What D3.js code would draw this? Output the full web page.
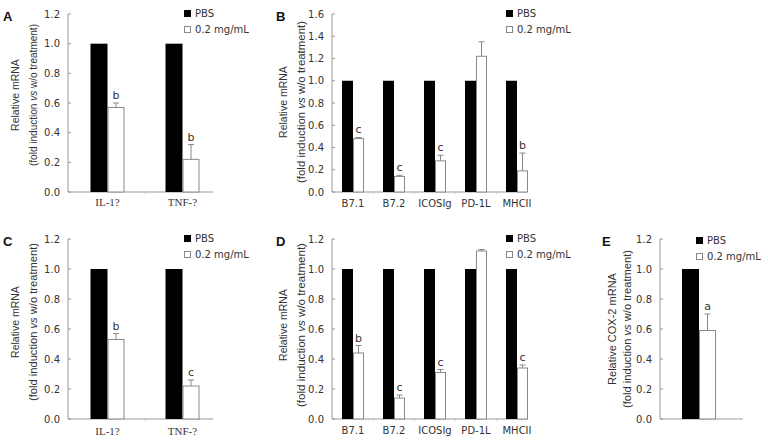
<!DOCTYPE html>
<html><head><meta charset="utf-8">
<script src="https://cdn.jsdelivr.net/npm/d3@7"></script>
<style>body{margin:0;background:#fff}svg{display:block}</style>
</head><body>
<script>
// ---- data ----
const catsCyt = ["IL-1?", "TNF-?"];
const catsCos = ["B7.1", "B7.2", "ICOSIg", "PD-1L", "MHCII"];
const catsCox = ["COX-2"];
const legendLabels = ["PBS", "0.2 mg/mL"];

const pbsA = [1, 1];
const trtA = [0.57, 0.22];
const errA = [0.03, 0.10];
const sigA = ["b", "b"];

const pbsB = [1, 1, 1, 1, 1];
const trtB = [0.48, 0.14, 0.28, 1.22, 0.19];
const errB = [0.01, 0.01, 0.05, 0.13, 0.16];
const sigB = ["c", "c", "c", "", "b"];

const pbsC = [1, 1];
const trtC = [0.53, 0.22];
const errC = [0.04, 0.04];
const sigC = ["b", "c"];

const pbsD = [1, 1, 1, 1, 1];
const trtD = [0.44, 0.14, 0.31, 1.12, 0.34];
const errD = [0.05, 0.02, 0.02, 0.01, 0.02];
const sigD = ["b", "c", "c", "", "c"];

const pbsE = [1];
const trtE = [0.59];
const errE = [0.11];
const sigE = ["a"];

const ticksA = [0, 0.2, 0.4, 0.6, 0.8, 1.0, 1.2];
const ticksB = [0, 0.2, 0.4, 0.6, 0.8, 1.0, 1.2, 1.4, 1.6];

const svg = d3.select("body").append("svg").attr("width", 768).attr("height", 444);
const AX = "#9a9a9a";
const SANS = "'DejaVu Sans', Verdana, sans-serif";
const ARIAL = "'Liberation Sans', Arial, sans-serif";

function panel(o) {
  const g = svg.append("g");
  const y = d3.scaleLinear().domain([0, o.ymax]).range([o.y0, o.y1]);
  const x = d3.scaleBand().domain(o.cats).range(o.xr).padding(0);
  const bw = o.bw;
  // axes
  g.append("line").attr("x1", o.ax).attr("x2", o.ax).attr("y1", y(o.ymax)).attr("y2", y(0)).attr("stroke", AX);
  g.append("line").attr("x1", o.ax).attr("x2", o.axEnd).attr("y1", y(0)).attr("y2", y(0)).attr("stroke", AX);
  o.ticks.forEach(t => {
    g.append("line").attr("x1", o.ax).attr("x2", o.ax + 3).attr("y1", y(t)).attr("y2", y(t)).attr("stroke", AX);
    g.append("text").attr("x", o.ax - 8).attr("y", y(t)).attr("dy", "0.35em").attr("text-anchor", "end")
      .attr("font-family", SANS).attr("font-size", 10).attr("fill", "#333").text(t.toFixed(1));
  });
  // x ticks at category boundaries
  o.cats.forEach((c, i) => {
    if (i > 0) g.append("line").attr("x1", x(c)).attr("x2", x(c)).attr("y1", y(0)).attr("y2", y(0) + 2).attr("stroke", "#ccc");
  });
  // bars
  o.cats.forEach((c, i) => {
    const cx = x(c) + x.bandwidth() / 2;
    g.append("rect").attr("x", cx - bw).attr("width", bw).attr("y", y(o.pbs[i])).attr("height", y(0) - y(o.pbs[i])).attr("fill", "#000");
    const top = y(o.trt[i]);
    g.append("rect").attr("x", cx + 0.5).attr("width", bw - 1).attr("y", top).attr("height", y(0) - top)
      .attr("fill", "#fff").attr("stroke", "#8a8a8a").attr("stroke-width", 1);
    const et = y(o.trt[i] + o.err[i]);
    const ex = cx + bw / 2;
    g.append("line").attr("x1", ex).attr("x2", ex).attr("y1", top).attr("y2", et).attr("stroke", "#888");
    g.append("line").attr("x1", ex - 3).attr("x2", ex + 3).attr("y1", et).attr("y2", et).attr("stroke", "#888");
    if (o.sig[i]) g.append("text").attr("x", ex).attr("y", et - 4).attr("text-anchor", "middle")
      .attr("font-family", SANS).attr("font-size", 11).attr("fill", "#333").text(o.sig[i]);
    if (o.catLabels !== false)
      g.append("text").attr("x", cx).attr("y", o.catY).attr("text-anchor", "middle")
        .attr("font-family", o.catFont).attr("font-size", o.catSize).attr("fill", "#333").text(c);
  });
  // legend
  legendLabels.forEach((l, i) => {
    const ly = o.legY + i * 16;
    g.append("rect").attr("x", o.legX + 0.5).attr("y", ly + 0.5).attr("width", 6).attr("height", 6)
      .attr("fill", i === 0 ? "#000" : "#fff").attr("stroke", i === 0 ? "#000" : "#888");
    g.append("text").attr("x", o.legX + 11).attr("y", ly + 3.5).attr("dy", "0.35em")
      .attr("font-family", SANS).attr("font-size", 10).attr("fill", "#333").text(l);
  });
  // panel letter
  g.append("text").attr("x", o.letX).attr("y", o.letY).attr("font-family", ARIAL)
    .attr("font-weight", "bold").attr("font-size", 13).attr("fill", "#111").text(o.letter);
  // y title
  g.append("text").attr("transform", `translate(${o.t1x},${o.tMid}) rotate(-90)`).attr("text-anchor", "middle")
    .attr("dy", "0.35em").attr("font-family", ARIAL).attr("font-size", o.f1).attr("fill", "#333")
    .text(o.title1);
  const t2 = g.append("text").attr("transform", `translate(${o.t2x},${o.tMid}) rotate(-90)`).attr("text-anchor", "middle")
    .attr("dy", "0.35em").attr("font-family", ARIAL).attr("font-size", 11.5).attr("fill", "#333")
    .attr("textLength", o.l2).attr("lengthAdjust", "spacingAndGlyphs");
  t2.append("tspan").text("(fold induction ");
  t2.append("tspan").attr("font-style", "italic").text("vs");
  t2.append("tspan").text(" w/o treatment)");
}

const serif = "'Liberation Serif', 'Times New Roman', serif";

panel({cats: catsCyt, pbs: pbsA, trt: trtA, err: errA, sig: sigA, ymax: 1.2, ticks: ticksA,
  y0: 192, y1: 14, xr: [70, 220], ax: 68, axEnd: 213, bw: 17, catY: 206, catFont: serif, catSize: 11,
  legX: 184, legY: 10, letX: 3, letY: 21, letter: "A", t1x: 15, t2x: 33, tMid: 95, f1: 10.5, l2: 142, title1: "Relative mRNA"});

panel({cats: catsCos, pbs: pbsB, trt: trtB, err: errB, sig: sigB, ymax: 1.6, ticks: ticksB,
  y0: 192, y1: 14, xr: [332.5, 537.5], ax: 332, axEnd: 527, bw: 11, catY: 207, catFont: SANS, catSize: 10,
  legX: 506, legY: 10, letX: 276, letY: 21, letter: "B", t1x: 283, t2x: 301, tMid: 102, f1: 10.5, l2: 162, title1: "Relative mRNA"});

panel({cats: catsCyt, pbs: pbsC, trt: trtC, err: errC, sig: sigC, ymax: 1.2, ticks: ticksA,
  y0: 419, y1: 239, xr: [70, 220], ax: 68, axEnd: 213, bw: 17, catY: 435, catFont: serif, catSize: 11,
  legX: 184, legY: 235, letX: 3, letY: 246, letter: "C", t1x: 15, t2x: 33, tMid: 322, f1: 10.5, l2: 158, title1: "Relative mRNA"});

panel({cats: catsCos, pbs: pbsD, trt: trtD, err: errD, sig: sigD, ymax: 1.2, ticks: ticksA,
  y0: 419, y1: 239, xr: [332.5, 537.5], ax: 332, axEnd: 527, bw: 11, catY: 434, catFont: SANS, catSize: 10,
  legX: 506, legY: 235, letX: 276, letY: 246, letter: "D", t1x: 283, t2x: 301, tMid: 325, f1: 10.5, l2: 164, title1: "Relative mRNA"});

panel({cats: catsCox, pbs: pbsE, trt: trtE, err: errE, sig: sigE, ymax: 1.2, ticks: ticksA,
  y0: 419, y1: 239, xr: [660, 738], ax: 660, axEnd: 743, bw: 17, catLabels: false, catY: 434, catFont: SANS, catSize: 10,
  legX: 696, legY: 237, letX: 602, letY: 246, letter: "E", t1x: 612, t2x: 627, tMid: 329, f1: 11, l2: 158, title1: "Relative COX-2 mRNA"});
</script>
</body></html>
